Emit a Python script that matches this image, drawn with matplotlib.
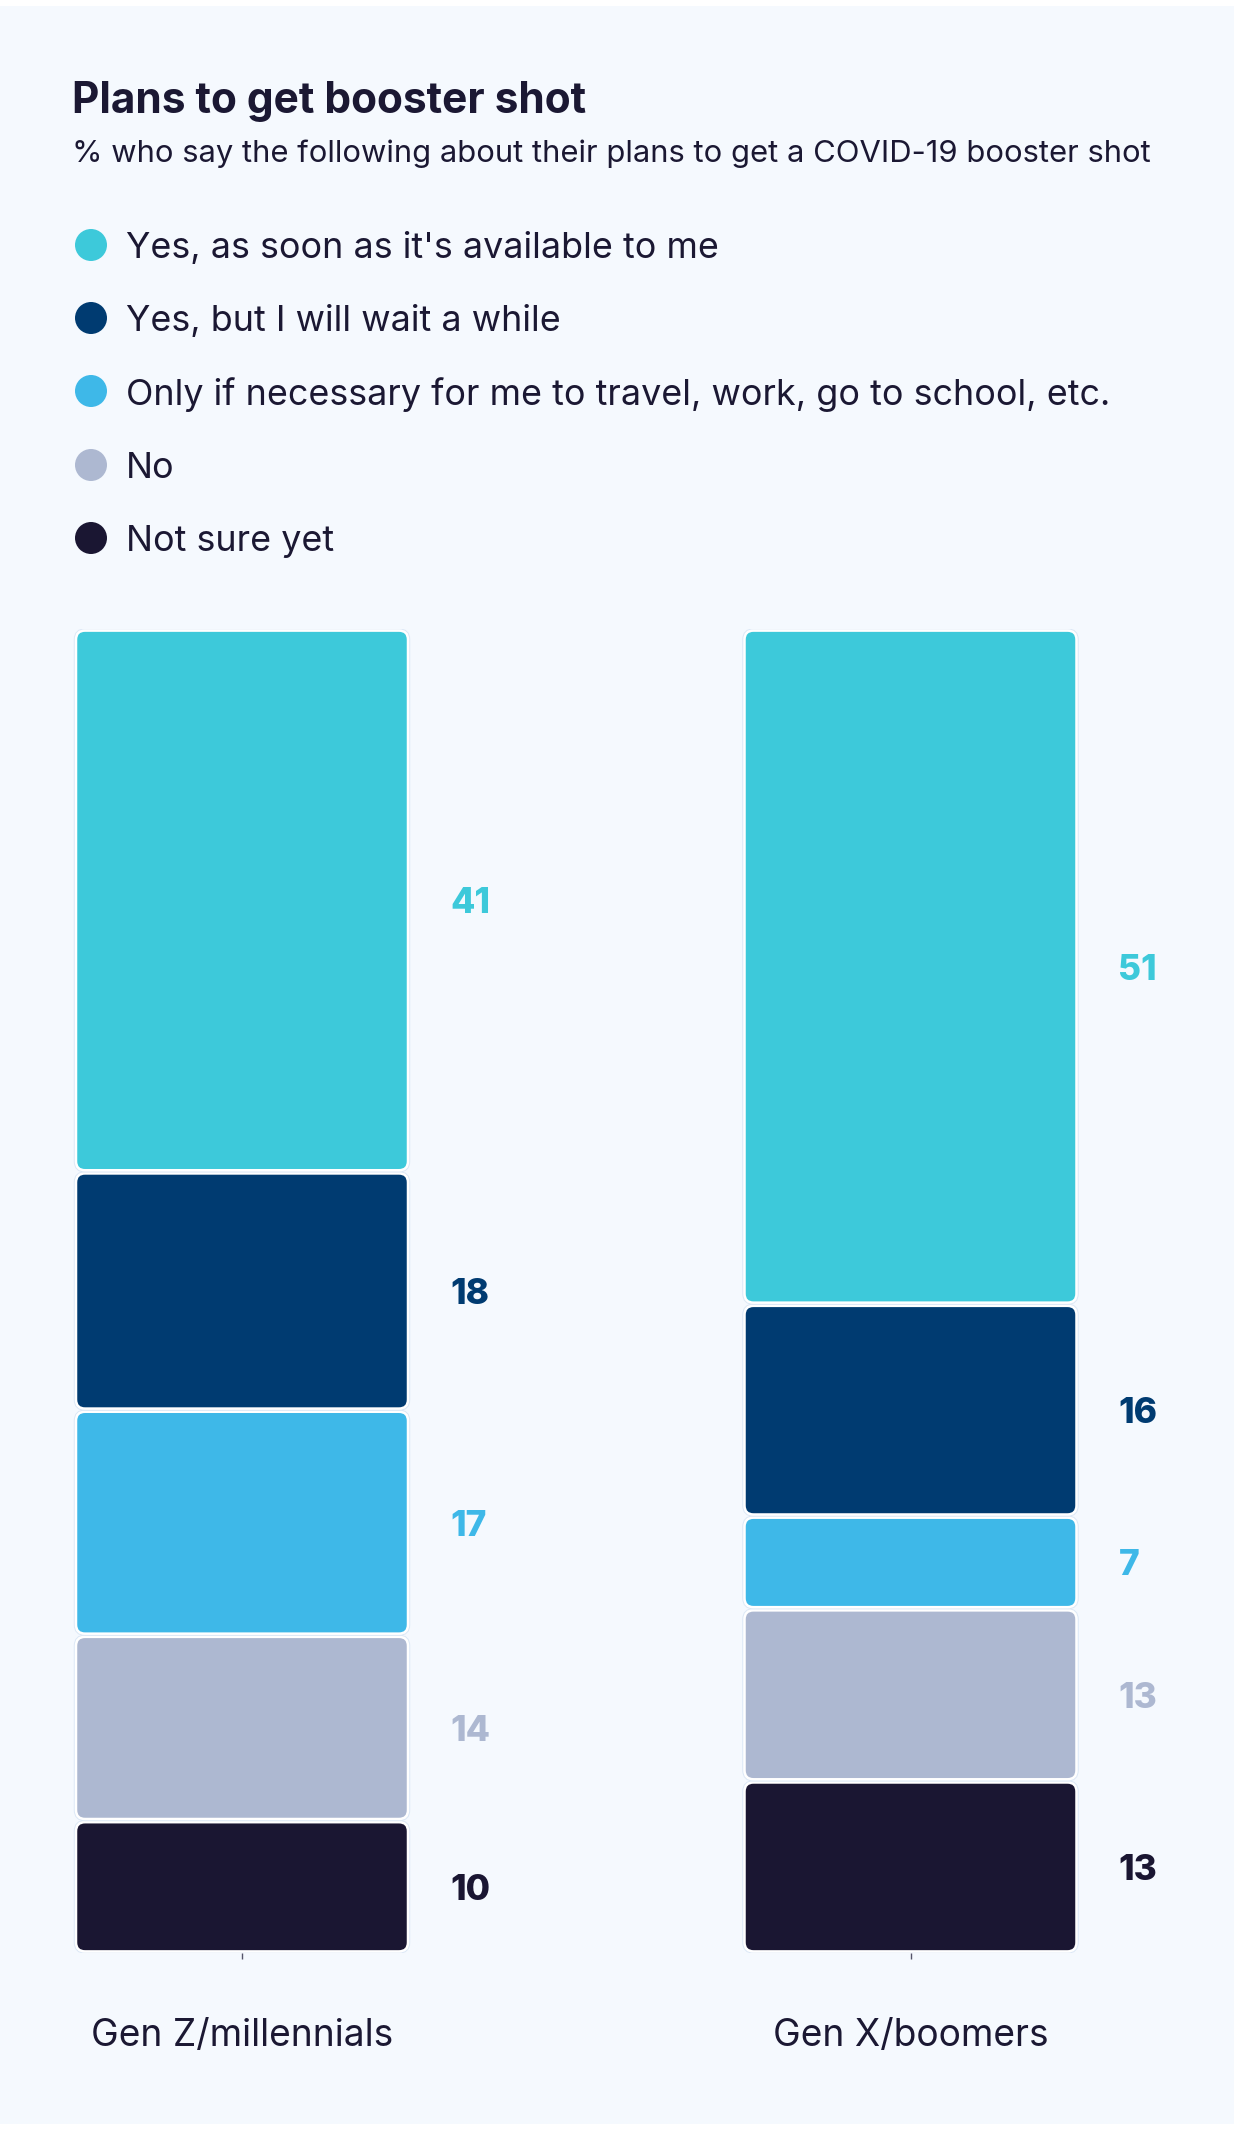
import matplotlib
matplotlib.use("Agg")
import matplotlib.pyplot as plt
from matplotlib.patches import FancyBboxPatch, Rectangle, Ellipse

# ---------------- data ----------------
categories = ["Gen Z/millennials", "Gen X/boomers"]
series_names = [
    "Yes, as soon as it's available to me",
    "Yes, but I will wait a while",
    "Only if necessary for me to travel, work, go to school, etc.",
    "No",
    "Not sure yet",
]
yes_asap = [41, 51]
yes_wait = [18, 16]
only_if = [17, 7]
no = [14, 13]
not_sure = [10, 13]
series_values = [yes_asap, yes_wait, only_if, no, not_sure]
colors = ["#3DC9DA", "#003B71", "#3EB8E8", "#ADB8D1", "#1A1632"]

title = "Plans to get booster shot"
subtitle = "% who say the following about their plans to get a COVID-19 booster shot"

# ---------------- styling ----------------
FONT = ["Inter", "DejaVu Sans"]
plt.rcParams["font.family"] = FONT
TXT = "#1B1833"
BG = "#F5F9FE"
W, H = 1240, 2131
DY = 3.5  # small downward nudge for text centring (pixels)

fig = plt.figure(figsize=(W / 100, H / 100), dpi=100)
fig.patch.set_facecolor("white")

# overlay (pixel coordinates, origin top-left) for background, titles, legend
ov = fig.add_axes([0, 0, 1, 1], zorder=0)
ov.set_xlim(0, W)
ov.set_ylim(H, 0)
ov.axis("off")
ov.add_patch(Rectangle((0, 6), 1234, 2118, facecolor=BG, edgecolor="none"))

def fit_text(x, y, s, target_w, size, **kw):
    t = ov.text(x, y, s, fontsize=size, **kw)
    fig.canvas.draw()
    bb = t.get_window_extent()
    t.set_fontsize(size * target_w / bb.width)
    return t

fit_text(72, 98 + DY, title, 515, 28, fontweight="bold", color=TXT, va="center", ha="left")
fit_text(72, 150 + DY, subtitle, 1080, 19.5, color=TXT, va="center", ha="left")

leg_y = [245, 318, 391, 465, 538]
for name, col, y in zip(series_names, colors, leg_y):
    ov.add_patch(Ellipse((91, y), 32, 32, facecolor=col, edgecolor="none"))
ref = ov.text(126, leg_y[2], series_names[2], fontsize=25, color=TXT, va="center", ha="left")
fig.canvas.draw()
leg_size = 25 * 981 / ref.get_window_extent().width
ref.remove()
for name, y in zip(series_names, leg_y):
    ov.text(126, y + DY, name, fontsize=leg_size, color=TXT, va="center", ha="left")

# ---------------- main axes ----------------
c0, c1 = 242.0, 910.5           # pixel centers of bars
ppu = c1 - c0                    # pixels per x data unit
y_top, y_bot = 629.0, 1953.0     # pixel rows of 100 and 0
ax = fig.add_axes([0, (H - y_bot) / H, 1, (y_bot - y_top) / H], zorder=1)
ax.set_xlim((0 - c0) / ppu, (W - c0) / ppu)
ax.set_ylim(0, 100)
ax.patch.set_alpha(0)
for s in ax.spines.values():
    s.set_visible(False)

upp_y = 100.0 / (y_bot - y_top)   # y data units per pixel
upp_x = 1.0 / ppu                 # x data units per pixel
aspect = upp_y / upp_x
bar_w = 332 * upp_x
gap = 1.6 * upp_y
rad = 9 * upp_x

x_pos = list(range(len(categories)))
order = list(range(len(series_values)))[::-1]  # stack bottom -> top
for i in x_pos:
    bottom = 0.0
    for k in order:
        v = series_values[k][i]
        x0 = i - bar_w / 2
        y0 = bottom + gap
        h = v - 2 * gap
        halo = FancyBboxPatch((x0, y0), bar_w, h,
                              boxstyle=f"round,pad=0,rounding_size={rad}",
                              mutation_aspect=aspect,
                              facecolor="none", edgecolor="#DCE8F6", linewidth=3.2)
        ax.add_patch(halo)
        p = FancyBboxPatch((x0, y0), bar_w, h,
                           boxstyle=f"round,pad=0,rounding_size={rad}",
                           mutation_aspect=aspect,
                           facecolor=colors[k], edgecolor="white", linewidth=1.8)
        ax.add_patch(p)
        ax.text(i + bar_w / 2 + 42 * upp_x, bottom + v / 2 - DY * upp_y, f"{v}",
                fontsize=25.5, fontweight="heavy", color=colors[k],
                va="center", ha="left")
        bottom += v

ax.set_xticks(x_pos)
ax.set_xticklabels([])
ax.tick_params(axis="x", length=4, width=1, color="#55556A", direction="out")
ax.set_yticks([])

cat_t = ov.text(0, 0, categories[0], fontsize=25)
fig.canvas.draw()
cat_size = 25 * 302 / cat_t.get_window_extent().width
cat_t.remove()
for i, cat in enumerate(categories):
    ov.text(c0 + i * ppu, 2033 + DY, cat, fontsize=cat_size, color=TXT, va="center", ha="center")

fig.savefig("out.png", dpi=100, facecolor=fig.get_facecolor())
